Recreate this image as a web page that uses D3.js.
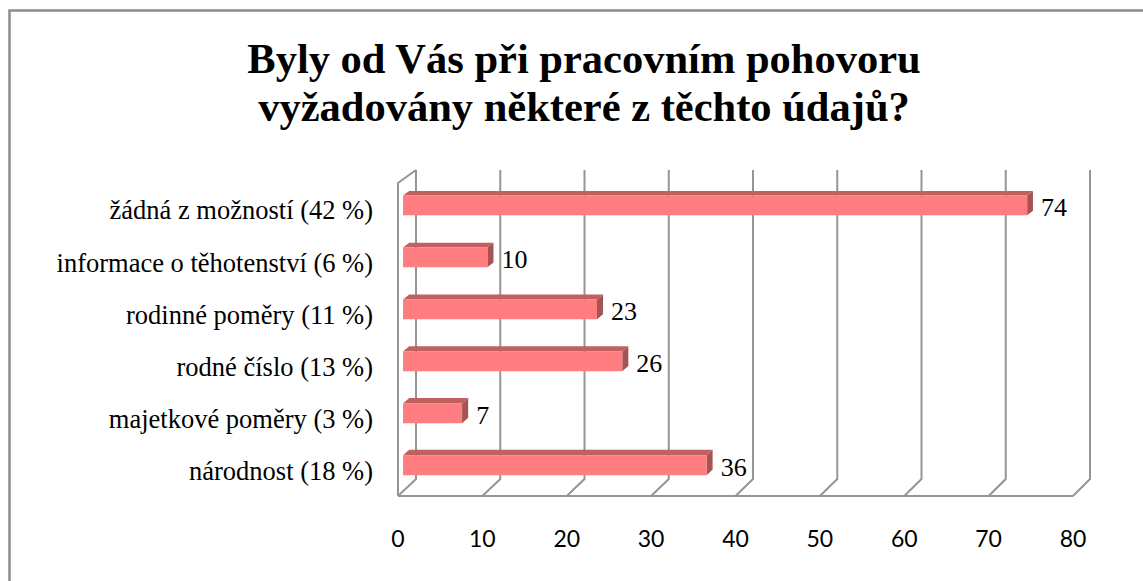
<!DOCTYPE html>
<html>
<head>
<meta charset="utf-8">
<script src="https://cdn.jsdelivr.net/npm/d3@7"></script>
<style>
  body { margin: 0; background: #fff; }
</style>
</head>
<body>
<svg id="chart" width="1143" height="581"></svg>
<script>
// data, top row first (as shown)
var categories = ["žádná z možností (42 %)", "informace o těhotenství (6 %)", "rodinné poměry (11 %)",
                  "rodné číslo (13 %)", "majetkové poměry (3 %)", "národnost (18 %)"];
var counts = [74, 10, 23, 26, 7, 36];
var ticks = [0, 10, 20, 30, 40, 50, 60, 70, 80];
var titleLines = ["Byly od Vás při pracovním pohovoru", "vyžadovány některé z těchto údajů?"];

var svg = d3.select("#chart");

// outer frame
svg.append("rect")
  .attr("x", 9.5).attr("y", 10.5)
  .attr("width", 1160).attr("height", 600)
  .attr("fill", "none").attr("stroke", "#8c8c8c").attr("stroke-width", 2.5);

// title
svg.append("text")
  .attr("x", 584).attr("y", 73)
  .attr("text-anchor", "middle")
  .style("font-family", "'Liberation Serif', 'Times New Roman', serif")
  .style("font-weight", "bold").style("font-size", "42.5px")
  .selectAll("tspan").data(titleLines).enter().append("tspan")
  .attr("x", 584).attr("dy", function(d, i) { return i ? 48 : 0; })
  .text(function(d) { return d; });

// 3d-ish plot: front plane and back plane
var xFront = d3.scaleLinear().domain([0, 80]).range([398, 1073]);
var xBack = d3.scaleLinear().domain([0, 80]).range([416, 1090]);
var yFront = d3.scaleLinear().domain([0, categories.length]).range([183, 496]);
var yBack = d3.scaleLinear().domain([0, categories.length]).range([170, 479]);

function pt(v, row, t) {
  return [xFront(v) + (xBack(v) - xFront(v)) * t, yFront(row) + (yBack(row) - yFront(row)) * t];
}

var gridColor = "#959595";
var grid = svg.append("g").attr("fill", "none").attr("stroke", gridColor).attr("stroke-width", 2);

// back wall lines + floor diagonals
ticks.forEach(function(v) {
  var top = pt(v, 0, 1), bot = pt(v, categories.length, 1), fr = pt(v, categories.length, 0);
  grid.append("path").attr("d", d3.line()([top, bot, fr]));
});
// front floor line
grid.append("path").attr("d", d3.line()([pt(0, categories.length, 0), pt(80, categories.length, 0)]));
// left wall front edge
grid.append("path").attr("d", d3.line()([pt(0, 0, 1), pt(0, 0, 0), pt(0, categories.length, 0)]));

// bars
var t0 = 0.28, t1 = 0.62, pad = 0.31;
var bars = svg.append("g").selectAll("g").data(counts).enter().append("g");

bars.append("path") // top face
  .attr("fill", "#c0605f")
  .attr("d", function(d, i) {
    return d3.line()([pt(0, i + pad, t0), pt(d, i + pad, t0), pt(d, i + pad, t1), pt(0, i + pad, t1)]) + "Z";
  });
bars.append("path") // side face
  .attr("fill", "#a65353")
  .attr("d", function(d, i) {
    return d3.line()([pt(d, i + pad, t0), pt(d, i + 1 - pad, t0), pt(d, i + 1 - pad, t1), pt(d, i + pad, t1)]) + "Z";
  });
bars.append("path") // front face
  .attr("fill", "#ff7c80")
  .attr("d", function(d, i) {
    return d3.line()([pt(0, i + pad, t0), pt(d, i + pad, t0), pt(d, i + 1 - pad, t0), pt(0, i + 1 - pad, t0)]) + "Z";
  });

// value labels
bars.append("text")
  .attr("x", function(d, i) { return pt(d, i + 0.5, t1)[0] + 8; })
  .attr("y", function(d, i) { return pt(d, i + 0.5, t0)[1] + 2; })
  .attr("dy", "0.35em")
  .style("font-family", "'Liberation Serif', 'Times New Roman', serif")
  .style("font-size", "26px").attr("fill", "#000")
  .text(function(d) { return d; });

// category labels
svg.append("g").selectAll("text").data(categories).enter().append("text")
  .attr("x", 373)
  .attr("y", function(d, i) { return yFront(i + 0.5) + 1; })
  .attr("dy", "0.35em")
  .attr("text-anchor", "end")
  .style("font-family", "'Liberation Serif', 'Times New Roman', serif")
  .style("font-size", "26.5px")
  .text(function(d) { return d; });

// x tick labels
svg.append("g").selectAll("text").data(ticks).enter().append("text")
  .attr("x", function(d) { return xFront(d); })
  .attr("y", 547)
  .attr("text-anchor", "middle")
  .style("font-family", "Lato, 'Open Sans', sans-serif")
  .style("font-size", "23px")
  .text(function(d) { return d; });
</script>
</body>
</html>
